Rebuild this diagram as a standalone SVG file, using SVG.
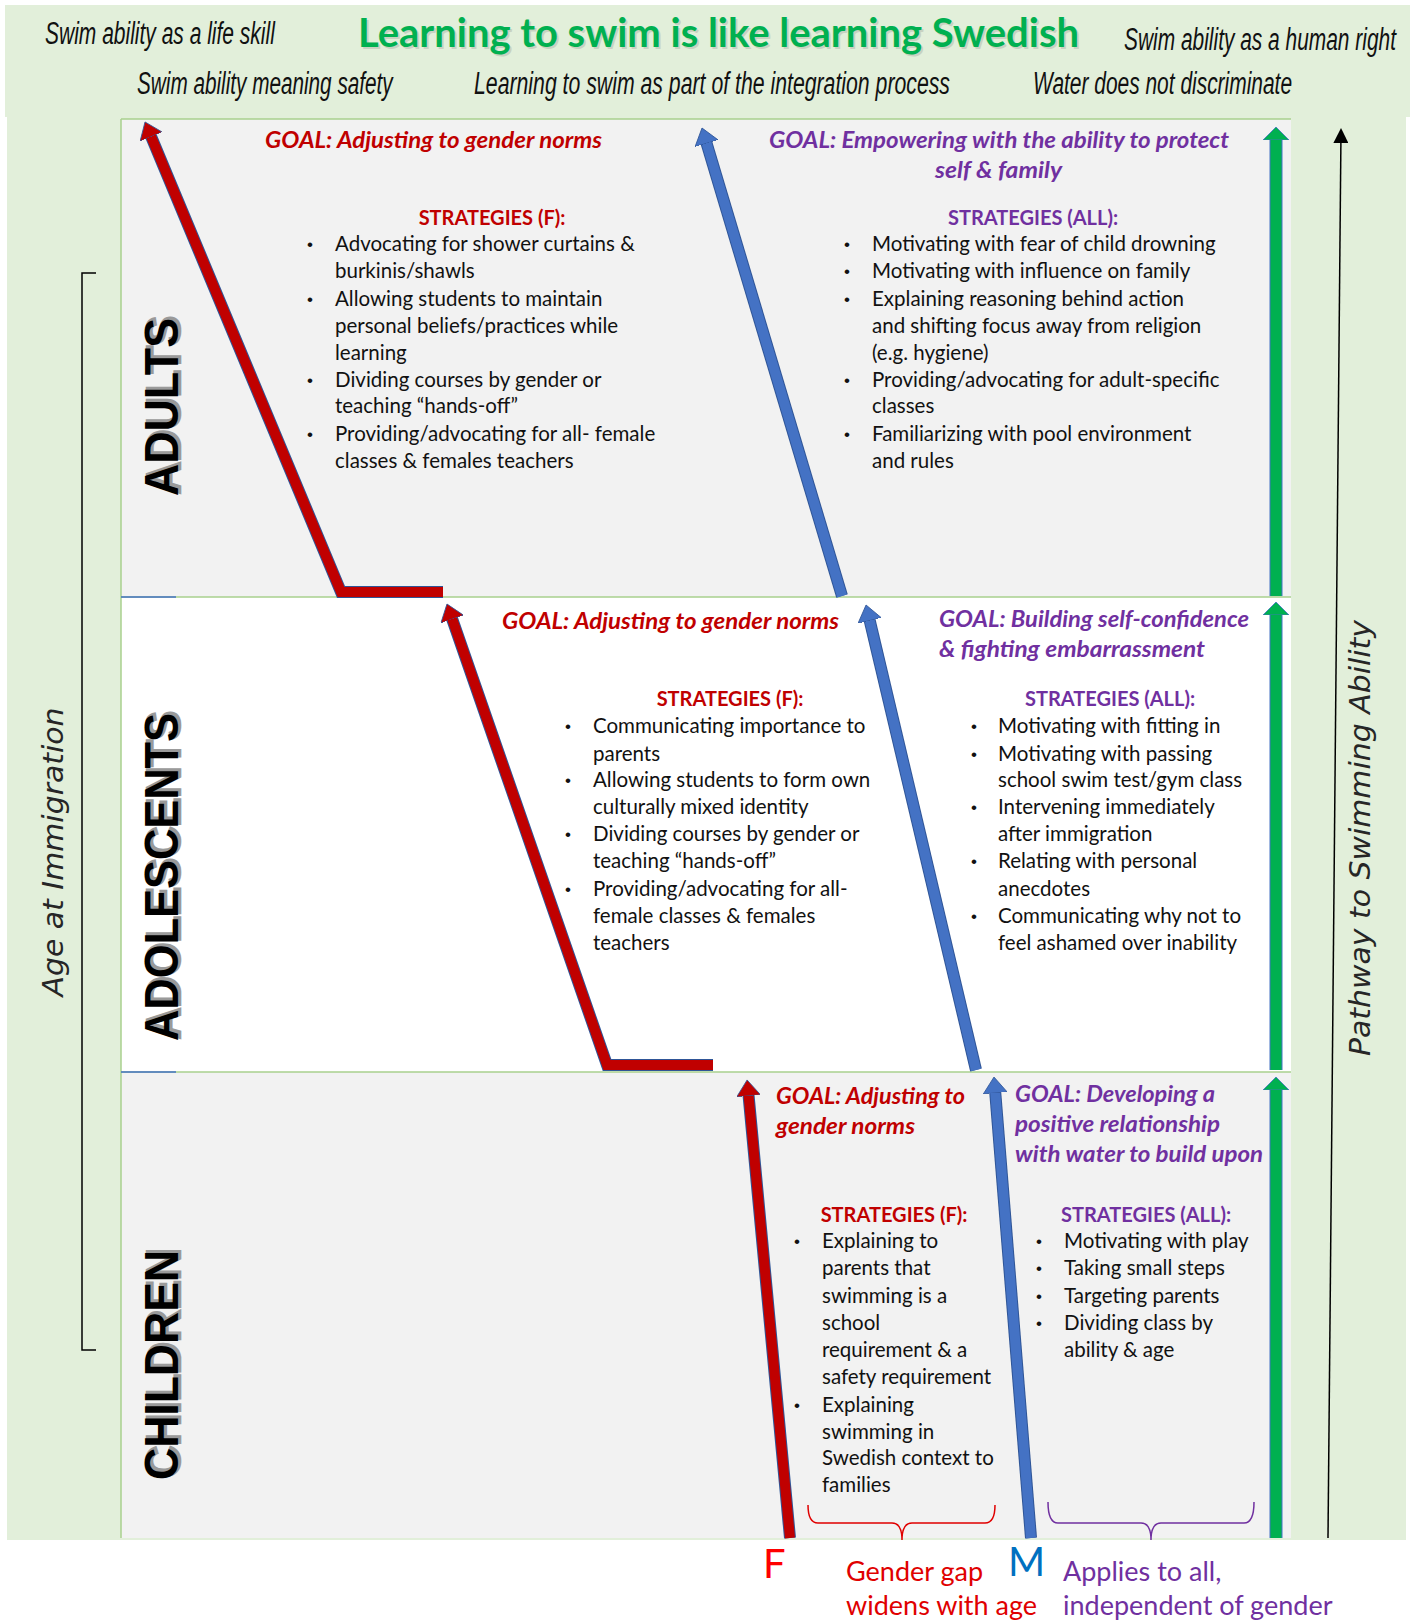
<svg xmlns="http://www.w3.org/2000/svg" width="1418" height="1620" viewBox="0 0 1418 1620">
<defs>
<style>
.bg{fill:#e2efda}
.body{font-family:Lato,"Liberation Sans",sans-serif;font-size:20.5px;fill:#111}
.bul{font-family:"Liberation Sans",sans-serif;font-size:17px;fill:#111}
.gr{font-family:Lato,"Liberation Sans",sans-serif;font-size:23px;font-weight:bold;font-style:italic;fill:#c00000}
.gp{font-family:Lato,"Liberation Sans",sans-serif;font-size:23px;font-weight:bold;font-style:italic;fill:#7030a0}
.sr{font-family:Lato,"Liberation Sans",sans-serif;font-size:20px;font-weight:bold;fill:#c00000;text-anchor:middle}
.sp{font-family:Lato,"Liberation Sans",sans-serif;font-size:20px;font-weight:bold;fill:#7030a0;text-anchor:middle}
.top{font-family:"Liberation Sans",sans-serif;font-style:italic;font-size:31px;fill:#111}
.title{font-family:Lato,"Liberation Sans",sans-serif;font-weight:bold;font-size:41px;fill:#00b050}
.age{font-family:"Liberation Sans",sans-serif;font-weight:bold;font-size:48px;fill:#000;text-anchor:middle}
.ageS{fill:#9a9a9a;stroke:#9a9a9a;stroke-width:2.5}
.axis{font-family:"DejaVu Sans",sans-serif;font-style:italic;font-size:28px;fill:#262626;text-anchor:middle}
.sep{stroke:#a9d18e;stroke-width:1.5}
.lab{font-family:Lato,"Liberation Sans",sans-serif;font-size:27px}
.out{fill:none;stroke:#2f5597;stroke-width:12}
.outG{fill:none;stroke:#4472c4;stroke-width:13}
</style>
<marker id="hR" viewBox="0 0 17 24" refX="1" refY="12" markerWidth="17" markerHeight="24" markerUnits="userSpaceOnUse" orient="auto"><path d="M0,0 L16,12 L0,24 z" fill="#c00000" stroke="#2f5597" stroke-width="0.8"/></marker>
<marker id="hB" viewBox="0 0 17 24" refX="1" refY="12" markerWidth="17" markerHeight="24" markerUnits="userSpaceOnUse" orient="auto"><path d="M0,0 L16,12 L0,24 z" fill="#4472c4" stroke="#2f5597" stroke-width="0.8"/></marker>
<marker id="hG" viewBox="0 0 14 26" refX="1" refY="13" markerWidth="14" markerHeight="26" markerUnits="userSpaceOnUse" orient="auto"><path d="M0,0 L13,13 L0,26 z" fill="#00b050" stroke="#4472c4" stroke-width="0.8"/></marker>
<marker id="hK" viewBox="0 0 16 15" refX="1" refY="7.5" markerWidth="16" markerHeight="15" markerUnits="userSpaceOnUse" orient="auto"><path d="M0,0 L15,7.5 L0,15 z" fill="#000"/></marker>
</defs>

<rect width="1418" height="1620" fill="#ffffff"/>
<g id="background">
<rect class="bg" x="5" y="5" width="1405" height="112"/>
<rect class="bg" x="7" y="116" width="1399" height="1424"/>
<rect x="121" y="119" width="1170" height="478" fill="#f2f2f2"/>
<rect x="121" y="597" width="1170" height="475" fill="#ffffff"/>
<rect x="121" y="1072" width="1170" height="466" fill="#f2f2f2"/>
<line class="sep" x1="121" y1="119" x2="1291" y2="119"/>
<line class="sep" x1="121" y1="597" x2="1291" y2="597"/>
<line class="sep" x1="121" y1="1072" x2="1291" y2="1072"/>
<line class="sep" x1="121" y1="119" x2="121" y2="1538"/>
<line x1="121" y1="597" x2="176" y2="597" stroke="#4472c4" stroke-width="1.5"/>
<line x1="121" y1="1072" x2="176" y2="1072" stroke="#4472c4" stroke-width="1.5"/>
</g>

<g id="header">
<text class="title" x="360" y="49" textLength="721" lengthAdjust="spacingAndGlyphs" opacity="0.18" style="fill:#555">Learning to swim is like learning Swedish</text>
<text class="title" x="358" y="47" textLength="721" lengthAdjust="spacingAndGlyphs">Learning to swim is like learning Swedish</text>
<text class="top" transform="translate(45,44) scale(0.68,1)" textLength="338" lengthAdjust="spacingAndGlyphs">Swim ability as a life skill</text>
<text class="top" transform="translate(1124,50) scale(0.68,1)" textLength="400" lengthAdjust="spacingAndGlyphs">Swim ability as a human right</text>
<text class="top" transform="translate(137,94) scale(0.68,1)" textLength="376" lengthAdjust="spacingAndGlyphs">Swim ability meaning safety</text>
<text class="top" transform="translate(474,94) scale(0.68,1)" textLength="700" lengthAdjust="spacingAndGlyphs">Learning to swim as part of the integration process</text>
<text class="top" transform="translate(1033,94) scale(0.68,1)" textLength="381" lengthAdjust="spacingAndGlyphs">Water does not discriminate</text>
</g>

<g id="axis-age">
<path d="M96,273 L82,273 L82,1350 L96,1350" fill="none" stroke="#000" stroke-width="1.5"/>
<text class="axis" transform="translate(63,852) rotate(-90)" textLength="289" lengthAdjust="spacingAndGlyphs">Age at Immigration</text>
</g>
<g id="axis-pathway">
<text class="axis" transform="translate(1370,838) rotate(-90)" textLength="436" lengthAdjust="spacingAndGlyphs">Pathway to Swimming Ability</text>
</g>

<g id="label-adults">
<text class="age ageS" transform="translate(180,405) rotate(-90)" textLength="178" lengthAdjust="spacingAndGlyphs">ADULTS</text>
<text class="age" transform="translate(178,407) rotate(-90)" textLength="178" lengthAdjust="spacingAndGlyphs">ADULTS</text>
</g>
<g id="label-adolescents">
<text class="age ageS" transform="translate(180,875) rotate(-90)" textLength="328" lengthAdjust="spacingAndGlyphs">ADOLESCENTS</text>
<text class="age" transform="translate(178,877) rotate(-90)" textLength="328" lengthAdjust="spacingAndGlyphs">ADOLESCENTS</text>
</g>
<g id="label-children">
<text class="age ageS" transform="translate(180,1363) rotate(-90)" textLength="230" lengthAdjust="spacingAndGlyphs">CHILDREN</text>
<text class="age" transform="translate(178,1365) rotate(-90)" textLength="230" lengthAdjust="spacingAndGlyphs">CHILDREN</text>
</g>

<g id="connectors">
<polyline class="out" points="443,592 341,592 150.8,135.8"/>
<polyline points="443,592 341,592 150.8,135.8" fill="none" stroke="#c00000" stroke-width="10" marker-end="url(#hR)"/>
<polyline class="out" points="713,1065 607,1065 451.9,618.2"/>
<polyline points="713,1065 607,1065 451.9,618.2" fill="none" stroke="#c00000" stroke-width="10" marker-end="url(#hR)"/>
<line class="out" x1="790" y1="1538" x2="748.5" y2="1094.9"/>
<line x1="790" y1="1538" x2="748.5" y2="1094.9" stroke="#c00000" stroke-width="10" marker-end="url(#hR)"/>
<line class="out" x1="842" y1="596" x2="706.3" y2="142.4"/>
<line x1="842" y1="596" x2="706.3" y2="142.4" stroke="#4472c4" stroke-width="10" marker-end="url(#hB)"/>
<line class="out" x1="976" y1="1070" x2="869.5" y2="619.6"/>
<line x1="976" y1="1070" x2="869.5" y2="619.6" stroke="#4472c4" stroke-width="10" marker-end="url(#hB)"/>
<line class="out" x1="1031" y1="1538" x2="995.2" y2="1092"/>
<line x1="1031" y1="1538" x2="995.2" y2="1092" stroke="#4472c4" stroke-width="10" marker-end="url(#hB)"/>
<line class="outG" x1="1276" y1="596" x2="1276" y2="139"/>
<line x1="1276" y1="596" x2="1276" y2="139" stroke="#00b050" stroke-width="11" marker-end="url(#hG)"/>
<line class="outG" x1="1276" y1="1070" x2="1276" y2="614"/>
<line x1="1276" y1="1070" x2="1276" y2="614" stroke="#00b050" stroke-width="11" marker-end="url(#hG)"/>
<line class="outG" x1="1276" y1="1538" x2="1276" y2="1089"/>
<line x1="1276" y1="1538" x2="1276" y2="1089" stroke="#00b050" stroke-width="11" marker-end="url(#hG)"/>
<line x1="1328" y1="1538" x2="1340.9" y2="142" stroke="#000" stroke-width="1.5" marker-end="url(#hK)"/>
<path d="M808,1505 Q808,1523 818,1523 L892,1523 Q902,1523 902,1540 Q902,1523 912,1523 L985,1523 Q995,1523 995,1505" fill="none" stroke="#e00000" stroke-width="1.5"/>
<path d="M1048,1502 Q1048,1523 1058,1523 L1141,1523 Q1151,1523 1151,1540 Q1151,1523 1161,1523 L1244,1523 Q1254,1523 1254,1502" fill="none" stroke="#7030a0" stroke-width="1.5"/>
</g>

<g id="adults-female">
<text class="gr" x="265" y="148" textLength="337" lengthAdjust="spacingAndGlyphs">GOAL: Adjusting to gender norms</text>
<text class="sr" x="492" y="225">STRATEGIES (F):</text>
<g class="bul">
<text x="307" y="250">•</text><text x="307" y="305">•</text><text x="307" y="386">•</text><text x="307" y="440">•</text>
</g>
<g class="body">
<text x="335" y="251">Advocating for shower curtains &amp;</text>
<text x="335" y="278">burkinis/shawls</text>
<text x="335" y="306">Allowing students to maintain</text>
<text x="335" y="333">personal beliefs/practices while</text>
<text x="335" y="360">learning</text>
<text x="335" y="387">Dividing courses by gender or</text>
<text x="335" y="413">teaching “hands-off”</text>
<text x="335" y="441">Providing/advocating for all- female</text>
<text x="335" y="468">classes &amp; females teachers</text>
</g>
</g>

<g id="adults-all">
<text class="gp" x="769" y="148" textLength="460" lengthAdjust="spacingAndGlyphs">GOAL: Empowering with the ability to protect</text>
<text class="gp" x="935" y="178" textLength="127" lengthAdjust="spacingAndGlyphs">self &amp; family</text>
<text class="sp" x="1033" y="225">STRATEGIES (ALL):</text>
<g class="bul">
<text x="844" y="250">•</text><text x="844" y="277">•</text><text x="844" y="305">•</text><text x="844" y="386">•</text><text x="844" y="440">•</text>
</g>
<g class="body">
<text x="872" y="251">Motivating with fear of child drowning</text>
<text x="872" y="278">Motivating with influence on family</text>
<text x="872" y="306">Explaining reasoning behind action</text>
<text x="872" y="333">and shifting focus away from religion</text>
<text x="872" y="360">(e.g. hygiene)</text>
<text x="872" y="387">Providing/advocating for adult-specific</text>
<text x="872" y="413">classes</text>
<text x="872" y="441">Familiarizing with pool environment</text>
<text x="872" y="468">and rules</text>
</g>
</g>

<g id="adolescents-female">
<text class="gr" x="502" y="629" textLength="337" lengthAdjust="spacingAndGlyphs">GOAL: Adjusting to gender norms</text>
<text class="sr" x="730" y="706">STRATEGIES (F):</text>
<g class="bul">
<text x="565" y="732">•</text><text x="565" y="786">•</text><text x="565" y="840">•</text><text x="565" y="895">•</text>
</g>
<g class="body">
<text x="593" y="733">Communicating importance to</text>
<text x="593" y="761">parents</text>
<text x="593" y="787">Allowing students to form own</text>
<text x="593" y="814">culturally mixed identity</text>
<text x="593" y="841">Dividing courses by gender or</text>
<text x="593" y="868">teaching “hands-off”</text>
<text x="593" y="896">Providing/advocating for all-</text>
<text x="593" y="923">female classes &amp; females</text>
<text x="593" y="950">teachers</text>
</g>
</g>

<g id="adolescents-all">
<text class="gp" x="939" y="627" textLength="310" lengthAdjust="spacingAndGlyphs">GOAL: Building self-confidence</text>
<text class="gp" x="939" y="657" textLength="266" lengthAdjust="spacingAndGlyphs">&amp; fighting embarrassment</text>
<text class="sp" x="1110" y="706">STRATEGIES (ALL):</text>
<g class="bul">
<text x="971" y="732">•</text><text x="971" y="760">•</text><text x="971" y="813">•</text><text x="971" y="867">•</text><text x="971" y="922">•</text>
</g>
<g class="body">
<text x="998" y="733">Motivating with fitting in</text>
<text x="998" y="761">Motivating with passing</text>
<text x="998" y="787">school swim test/gym class</text>
<text x="998" y="814">Intervening immediately</text>
<text x="998" y="841">after immigration</text>
<text x="998" y="868">Relating with personal</text>
<text x="998" y="896">anecdotes</text>
<text x="998" y="923">Communicating why not to</text>
<text x="998" y="950">feel ashamed over inability</text>
</g>
</g>

<g id="children-female">
<text class="gr" x="776" y="1104" textLength="189" lengthAdjust="spacingAndGlyphs">GOAL: Adjusting to</text>
<text class="gr" x="776" y="1134" textLength="139" lengthAdjust="spacingAndGlyphs">gender norms</text>
<text class="sr" x="894" y="1222">STRATEGIES (F):</text>
<g class="bul">
<text x="794" y="1247">•</text><text x="794" y="1411">•</text>
</g>
<g class="body">
<text x="822" y="1248">Explaining to</text>
<text x="822" y="1275">parents that</text>
<text x="822" y="1303">swimming is a</text>
<text x="822" y="1330">school</text>
<text x="822" y="1357">requirement &amp; a</text>
<text x="822" y="1384">safety requirement</text>
<text x="822" y="1412">Explaining</text>
<text x="822" y="1439">swimming in</text>
<text x="822" y="1465">Swedish context to</text>
<text x="822" y="1492">families</text>
</g>
</g>

<g id="children-all">
<text class="gp" x="1015" y="1102" textLength="200" lengthAdjust="spacingAndGlyphs">GOAL: Developing a</text>
<text class="gp" x="1015" y="1132" textLength="205" lengthAdjust="spacingAndGlyphs">positive relationship</text>
<text class="gp" x="1015" y="1162" textLength="248" lengthAdjust="spacingAndGlyphs">with water to build upon</text>
<text class="sp" x="1146" y="1222">STRATEGIES (ALL):</text>
<g class="bul">
<text x="1036" y="1247">•</text><text x="1036" y="1274">•</text><text x="1036" y="1302">•</text><text x="1036" y="1329">•</text>
</g>
<g class="body">
<text x="1064" y="1248">Motivating with play</text>
<text x="1064" y="1275">Taking small steps</text>
<text x="1064" y="1303">Targeting parents</text>
<text x="1064" y="1330">Dividing class by</text>
<text x="1064" y="1357">ability &amp; age</text>
</g>
</g>

<g id="legend-female">
<text class="lab" x="763" y="1578" style="font-size:40px;fill:#ff0000">F</text>
<text class="lab" x="846" y="1581" fill="#e00000">Gender gap</text>
<text class="lab" x="846" y="1615" fill="#e00000">widens with age</text>
</g>
<g id="legend-all">
<text class="lab" x="1008" y="1576" style="font-size:40px;fill:#0070c0">M</text>
<text class="lab" x="1063" y="1581" fill="#7030a0">Applies to all,</text>
<text class="lab" x="1063" y="1615" fill="#7030a0">independent of gender</text>
</g>
</svg>
